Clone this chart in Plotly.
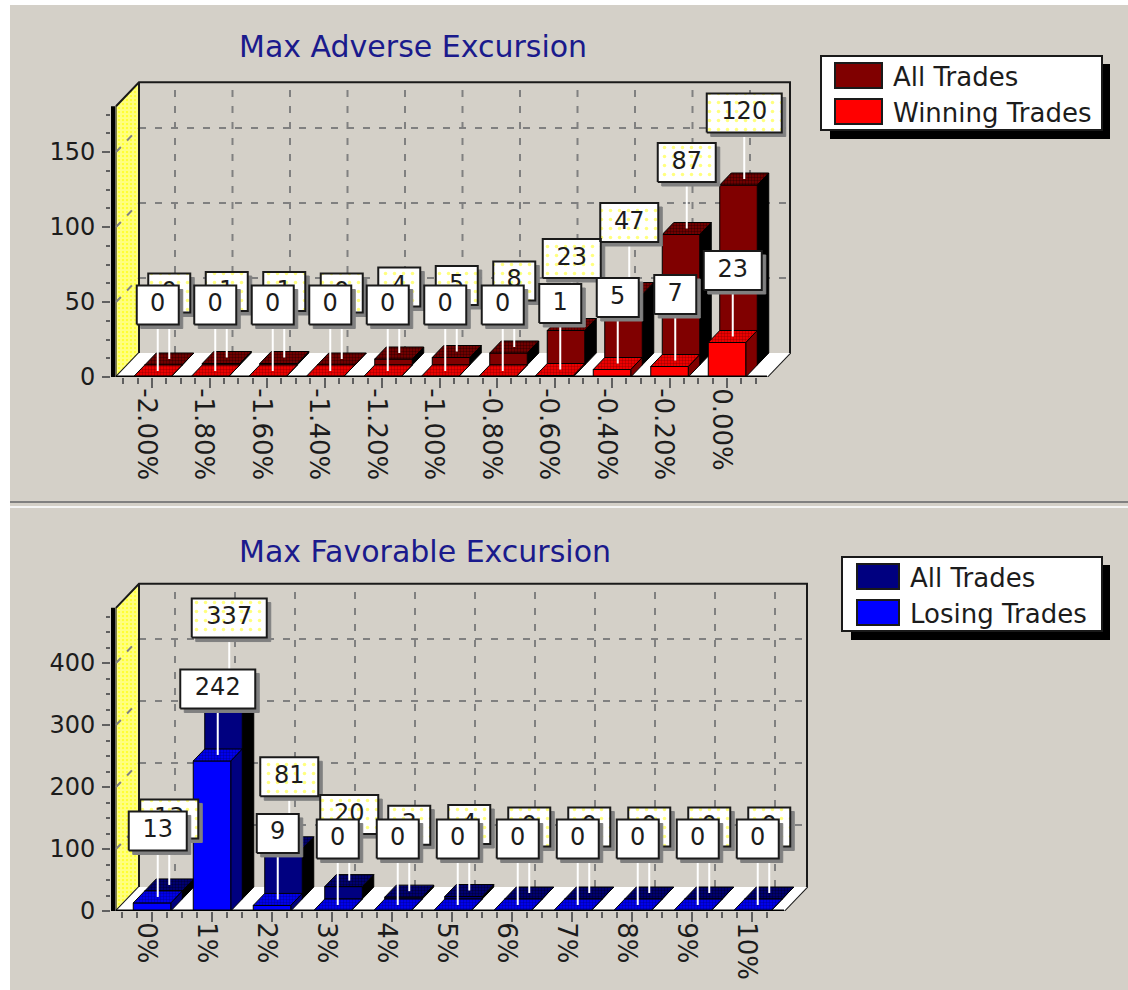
import plotly.graph_objects as go

# ---- data ----
mae_categories = ["-2.00%", "-1.80%", "-1.60%", "-1.40%", "-1.20%", "-1.00%", "-0.80%", "-0.60%", "-0.40%", "-0.20%", "0.00%"]
mae_all_trades = [0, 1, 1, 0, 4, 5, 8, 23, 47, 87, 120]
mae_winning_trades = [0, 0, 0, 0, 0, 0, 0, 1, 5, 7, 23]
mae_y_ticks = [0, 50, 100, 150]

mfe_categories = ["0%", "1%", "2%", "3%", "4%", "5%", "6%", "7%", "8%", "9%", "10%"]
mfe_all_trades = [13, 337, 81, 20, 3, 4, 0, 0, 0, 0, 0]
mfe_losing_trades = [13, 242, 9, 0, 0, 0, 0, 0, 0, 0, 0]
mfe_y_ticks = [0, 100, 200, 300, 400]

W, H = 1128, 990
PANEL = "#d4d0c8"
TEXT = "#1c1c1c"
FONT = "DejaVu Sans"
GRID = "#808080"

fig = go.Figure()


def polys(items):
    xs, ys = [], []
    for item in items:
        for x, y in item:
            xs.append(x)
            ys.append(y)
        xs.append(None)
        ys.append(None)
    return xs, ys


def add_poly(items, name, fill=None, pattern=None, line="black", lw=1, dash=None, ax="x", ay="y"):
    xs, ys = polys(items)
    kw = {}
    if fill or pattern:
        kw["fill"] = "toself"
        kw["fillcolor"] = fill
    if pattern:
        kw["fillpattern"] = pattern
    fig.add_trace(go.Scatter(x=xs, y=ys, mode="lines", name=name, showlegend=False,
                             line=dict(color=line, width=lw, dash=dash), cliponaxis=False,
                             hoverinfo="skip", xaxis=ax, yaxis=ay, **kw))


def panel(idx, cats, back, front, yticks, minor_step, back_name, front_name,
          px_tick0, px_step, px_y0, px_per_unit, px_top, px_left, px_right,
          px_front_right, ymax, front_col, back_col, side_front, hatch_front, hatch_back):
    ax = "x" if idx == 1 else "x2"
    ay = "y" if idx == 1 else "y2"
    DX = 23 / px_step
    DY = 24 / px_per_unit
    barw = 37.5 / px_step
    x_wall = (116 - px_tick0) / px_step
    x_end = (px_front_right - px_tick0) / px_step
    xr = [(px_left - px_tick0) / px_step, (px_right - px_tick0) / px_step]
    yr = [0, (px_y0 - px_top) / px_per_unit]
    n = len(cats)

    # yellow side wall
    add_poly([[(x_wall, 0), (x_wall + DX, DY), (x_wall + DX, ymax + DY), (x_wall, ymax), (x_wall, 0)]],
             "wall", fill="#ffff66",
             pattern=dict(shape=".", fgcolor="#ffffff", bgcolor="#ffff00", size=4, solidity=0.8),
             ax=ax, ay=ay)
    # dashed grid on the back wall and across the side wall
    grid = []
    for i in range(n):
        grid.append([(i + DX, DY), (i + DX, ymax + DY)])
    for v in yticks[1:]:
        grid.append([(x_wall + DX, v + DY), (x_end + DX, v + DY)])
        grid.append([(x_wall, v), (x_wall + DX, v + DY)])
    add_poly(grid, "grid", line=GRID, lw=2, dash="7px,9px", ax=ax, ay=ay)
    # frame
    add_poly([[(x_wall, ymax), (x_wall + DX, ymax + DY), (x_end + DX, ymax + DY), (x_end + DX, DY), (x_end, 0)],
              [(x_wall + DX, ymax + DY), (x_wall + DX, DY), (x_wall, 0)]],
             "frame", line="#1a1a1a", lw=2, ax=ax, ay=ay)
    # floor
    add_poly([[(x_wall, 0), (x_wall + DX, DY), (x_end + DX, DY), (x_end, 0), (x_wall, 0)]],
             "floor", fill="#ffffff", line="rgba(0,0,0,0)", lw=0, ax=ax, ay=ay)

    # 3D bars: back row first, then front row
    def row(values, name, d0, d1, face, side, hatch):
        faces, sides, tops = [], [], []
        sx0, sy0 = d0 * DX, d0 * DY
        sx1, sy1 = d1 * DX, d1 * DY
        for i, v in enumerate(values):
            l, r = i - barw / 2 + sx0, i + barw / 2 + sx0
            faces.append([(l, sy0), (r, sy0), (r, v + sy0), (l, v + sy0), (l, sy0)])
            ddx, ddy = sx1 - sx0, sy1 - sy0
            sides.append([(r, sy0), (r + ddx, sy0 + ddy), (r + ddx, v + sy0 + ddy), (r, v + sy0), (r, sy0)])
            tops.append([(l, v + sy0), (r, v + sy0), (r + ddx, v + sy0 + ddy), (l + ddx, v + sy0 + ddy), (l, v + sy0)])
        add_poly(sides, name + " side", fill=side, line="black", lw=1, ax=ax, ay=ay)
        add_poly(faces, name, fill=face, line="black", lw=1, ax=ax, ay=ay)
        add_poly(tops, name + " top", fill=face,
                 pattern=dict(shape=".", fgcolor=hatch[0], bgcolor=hatch[1], size=3, solidity=0.5),
                 line="black", lw=1, ax=ax, ay=ay)

    row(back, back_name, 0.5, 1.0, back_col, "#000000", hatch_back)
    row(front, front_name, 0.0, 0.5, front_col, side_front, hatch_front)

    # axis lines
    add_poly([[(x_wall, 0), (x_end, 0)]], "x axis line", line="black", lw=3, ax=ax, ay=ay)
    add_poly([[((113 - px_tick0) / px_step, 0), ((113 - px_tick0) / px_step, ymax)]],
             "y axis line", line="black", lw=4, ax=ax, ay=ay)

    # value labels
    def labels(values, name, depth, pattern):
        bw = {1: 42, 2: 58, 3: 75}
        h_box = 39 / px_per_unit
        gap = 46.5 / px_per_unit
        stems, shadow, boxes, tx, ty, tt = [], [], [], [], [], []
        for i, v in enumerate(values):
            cx = i + depth * DX
            cy = v + depth * DY
            half = bw[len(str(v))] / 2 / px_step
            b = cy + gap
            t = b + h_box
            stems.append([(cx, cy), (cx, b)])
            s = 4 / px_step
            sy = 4 / px_per_unit
            shadow.append([(cx - half + s, b - sy), (cx + half + s, b - sy), (cx + half + s, t - sy), (cx - half + s, t - sy), (cx - half + s, b - sy)])
            boxes.append([(cx - half, b), (cx + half, b), (cx + half, t), (cx - half, t), (cx - half, b)])
            tx.append(cx)
            ty.append((b + t) / 2)
            tt.append(str(v))
        add_poly(stems, name + " stems", line="#ffffff", lw=2, ax=ax, ay=ay)
        add_poly(shadow, name + " label shadow", fill="#808080", line="#808080", lw=1, ax=ax, ay=ay)
        add_poly(boxes, name + " label box", fill="#ffffff", pattern=pattern, line="#1a1a1a", lw=2, ax=ax, ay=ay)
        fig.add_trace(go.Scatter(x=tx, y=ty, text=tt, mode="text", textposition="middle center",
                                 textfont=dict(family=FONT, size=24, color=TEXT), showlegend=False,
                                 name=name + " values", cliponaxis=False, hoverinfo="skip", xaxis=ax, yaxis=ay))

    labels(back, back_name, 0.75, dict(shape=".", fgcolor="#ffff00", bgcolor="#ffffff", size=9, solidity=0.12))
    labels(front, front_name, 0.25, None)

    xa = dict(domain=[px_left / W, px_right / W], range=xr, tickmode="array", automargin=False,
              tickvals=list(range(n)), ticktext=cats, tickangle=90, ticks="outside", ticklen=10,
              tickcolor="#606060", tickwidth=2, showgrid=False, zeroline=False, showline=False,
              tickfont=dict(family=FONT, size=26, color=TEXT), ticklabelshift=-6, ticklabelstandoff=-5,
              minor=dict(tickmode="array", ticks="outside", ticklen=6, tickcolor="#606060", tickwidth=2,
                         tickvals=[(i - 2) * 0.25 for i in range(n * 4 + 2) if (i - 2) % 4 != 0 and (i - 2) * 0.25 <= x_end - 0.15],
                         showgrid=False),
              anchor=ay)
    ya = dict(domain=[(H - px_y0) / H, (H - px_top) / H], range=yr, tickmode="array", automargin=False,
              tickvals=yticks, ticktext=[str(v) for v in yticks], ticks="outside", ticklen=8,
              tickcolor="#606060", tickwidth=2, showgrid=False, zeroline=False, showline=False,
              tickfont=dict(family=FONT, size=24, color=TEXT), ticklabelstandoff=2,
              minor=dict(tickmode="array", ticks="outside", ticklen=4, tickcolor="#606060", tickwidth=2,
                         tickvals=[k * minor_step for k in range(int(ymax / minor_step) + 1) if (k * minor_step) not in yticks],
                         showgrid=False),
              anchor=ax)
    if idx == 1:
        fig.update_layout(xaxis=xa, yaxis=ya)
    else:
        fig.update_layout(xaxis2=xa, yaxis2=ya)


panel(1, mae_categories, mae_all_trades, mae_winning_trades, mae_y_ticks, 12.5,
      "All Trades", "Winning Trades", 152, 57.5, 377, 1.5, 80, 111, 800, 767, 180.5,
      "#ff0000", "#800000", "#800000", ("#600000", "#ff0000"), ("#000000", "#800000"))
panel(2, mfe_categories, mfe_all_trades, mfe_losing_trades, mfe_y_ticks, 25,
      "All Trades", "Losing Trades", 152, 60, 911, 0.62, 580, 111, 820, 784, 489,
      "#0000ff", "#000080", "#000080", ("#000060", "#0000ff"), ("#000000", "#000080"))

# ---- page furniture in pixel terms ----
def X(p):
    return p / W


def Y(p):
    return 1 - p / H


def rect(x0, y0, x1, y1, fill, line=None, lw=0, layer="above"):
    return dict(type="rect", xref="paper", yref="paper", x0=X(x0), x1=X(x1), y0=Y(y1), y1=Y(y0),
                fillcolor=fill, line=dict(color=line or fill, width=lw), layer=layer)


def text(x, y, s, size, color=TEXT):
    return dict(xref="paper", yref="paper", x=X(x), y=Y(y), text=s, showarrow=False, xanchor="left",
                yanchor="middle", font=dict(family=FONT, size=size, color=color))


shapes = [
    rect(10, 5, W, H, PANEL, layer="below"),
    rect(10, 501, W, 503, "#808080", layer="below"),
    rect(10, 506, W, 508, "#f4f4f4", layer="below"),
    # legends
    rect(830, 64, 1110, 139, "#000000"),
    rect(821, 56, 1102, 130, "#ffffff", "#1a1a1a", 2),
    rect(835, 63, 882, 88, "#800000", "#1a1a1a", 2),
    rect(835, 99, 882, 124, "#ff0000", "#1a1a1a", 2),
    rect(851, 565, 1110, 640, "#000000"),
    rect(842, 557, 1102, 631, "#ffffff", "#1a1a1a", 2),
    rect(857, 564, 899, 589, "#000080", "#1a1a1a", 2),
    rect(857, 600, 899, 625, "#0000ff", "#1a1a1a", 2),
]
annotations = [
    text(237, 47, "Max Adverse Excursion", 30, "#1a1a8c"),
    text(237, 551, "Max Favorable Excursion", 30, "#1a1a8c"),
    text(891, 77, "All Trades", 26),
    text(891, 113, "Winning Trades", 26),
    text(908, 578, "All Trades", 26),
    text(908, 614, "Losing Trades", 26),
]

fig.update_layout(width=W, height=H, autosize=False, margin=dict(l=0, r=0, t=0, b=0, pad=0),
                  paper_bgcolor="#ffffff", plot_bgcolor="rgba(0,0,0,0)", showlegend=False,
                  shapes=shapes, annotations=annotations, hovermode=False)

fig.write_html("out.html", config={"displayModeBar": False}, post_script="document.body.style.margin='0';")
